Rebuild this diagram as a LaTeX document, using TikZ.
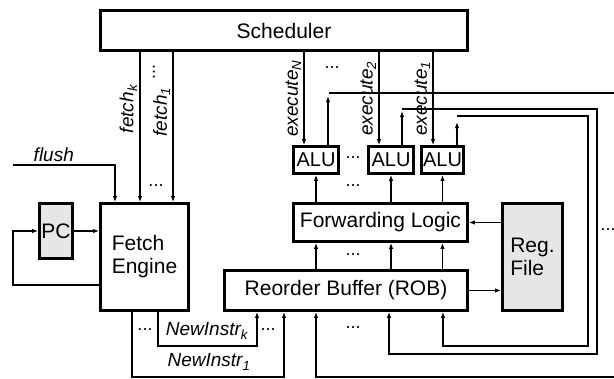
\documentclass[tikz,border=0pt]{standalone}
\usepackage{fontspec}
\setmainfont{Liberation Sans}
\usetikzlibrary{arrows.meta,positioning}
\definecolor{boxgray}{RGB}{230,230,230}

\begin{document}
\begin{tikzpicture}[x=1pt,y=-1pt,
     >={Latex[length=6pt,width=4.5pt]},
     blk/.style={draw,line width=2.8pt,inner sep=0pt,font=\fontsize{21}{23}\selectfont},
     shaded/.style={blk,fill=boxgray},
     sig/.style={line width=1.9pt,->},
     wire/.style={line width=1.9pt},
     lbl/.style={font=\fontsize{19}{21}\selectfont\itshape,inner sep=2pt},
     dotz/.style={font=\fontsize{18}{20}\selectfont,inner sep=0pt}]
    \useasboundingbox (0,0) rectangle (614,379);
    % boxes
    \node[blk,minimum width=367pt,minimum height=40pt] (sched) at (284,30.5) {Scheduler};
    \node[blk,minimum width=88pt,minimum height=107pt,align=left] (fetch) at (144.5,257) {Fetch\\Engine};
    \node[shaded,minimum width=33pt,minimum height=55pt] (pc) at (56,231) {PC};
    \node[blk,minimum width=243pt,minimum height=40pt] (rob) at (346,290.5) {Reorder Buffer (ROB)};
    \node[blk,minimum width=174pt,minimum height=38pt] (fwd) at (380.5,222.5) {Forwarding Logic};
    \node[shaded,minimum width=60pt,minimum height=107pt,align=left] (reg) at (532.5,257) {Reg.\\File};
    \node[blk,minimum width=45pt,minimum height=27pt,font=\fontsize{20}{22}\selectfont] (alu1) at (316,160) {ALU};
    \node[blk,minimum width=45pt,minimum height=27pt,font=\fontsize{20}{22}\selectfont] (alu2) at (391,160) {ALU};
    \node[blk,minimum width=42pt,minimum height=27pt,font=\fontsize{20}{22}\selectfont] (alu3) at (442.5,160) {ALU};
    \coordinate (flushin) at (13,165);
    \coordinate (flushdn) at ([xshift=-29.5pt]fetch.north);
    \coordinate (outN) at (614,93);
    \coordinate (inN) at (614,377);

    % fetch side
    \draw[sig] ([xshift=-4.5pt]fetch.north |- sched.south) -- node[lbl,pos=0.38,rotate=90,anchor=south]{fetch\textsubscript{k}} ([xshift=-4.5pt]fetch.north);
    \draw[sig] ([xshift=28.5pt]fetch.north |- sched.south) -- node[lbl,pos=0.4,rotate=90,anchor=south]{fetch\textsubscript{1}} ([xshift=28.5pt]fetch.north);
    \draw[sig] (flushin) -- node[lbl,above,pos=0.4]{flush} (flushin -| flushdn) -- (flushdn);
    \draw[sig] (pc.east) -- (pc.east -| fetch.west);
    \draw[sig] ([yshift=-28pt]fetch.west) -- ++(-86,0) |- (pc.west);
    \draw[sig] ([xshift=-12.5pt]fetch.south) -- ++(0,65) -| ([xshift=-62pt]rob.south);
    \draw[sig] ([xshift=13.5pt]fetch.south) -- ++(0,34) -| ([xshift=-89pt]rob.south);
    \node[lbl] (nik) at (207,331) {NewInstr\textsubscript{k}};
    \node[lbl] (nio) at (209,362) {NewInstr\textsubscript{1}};

    % scheduler to ALUs
    \draw[sig] ([xshift=-12pt]alu1.north |- sched.south) -- node[lbl,rotate=90,anchor=south]{execute\textsubscript{N}} ([xshift=-12pt]alu1.north);
    \draw[sig] ([xshift=-12pt]alu2.north |- sched.south) -- node[lbl,rotate=90,anchor=south]{execute\textsubscript{2}} ([xshift=-12pt]alu2.north);
    \draw[sig] ([xshift=-9.5pt]alu3.north |- sched.south) -- node[lbl,rotate=90,anchor=south]{execute\textsubscript{1}} ([xshift=-9.5pt]alu3.north);

    % ROB -> forwarding -> ALUs
    \draw[sig] (alu1.south |- rob.north) -- (alu1.south |- fwd.south);
    \draw[sig] (alu2.south |- rob.north) -- (alu2.south |- fwd.south);
    \draw[sig] (alu3.south |- rob.north) -- (alu3.south |- fwd.south);
    \draw[sig] (alu1.south |- fwd.north) -- (alu1.south);
    \draw[sig] (alu2.south |- fwd.north) -- (alu2.south);
    \draw[sig] (alu3.south |- fwd.north) -- (alu3.south);
    \draw[sig] (reg.west |- fwd.east) -- (fwd.east);
    \draw[sig] (rob.east) -- (rob.east -| reg.west);

    % result buses back to ROB
    \draw[sig] ([xshift=12pt]alu1.north) -- ++(0,-49);
    \draw[wire] ([xshift=13pt]alu1.north |- outN) -- (outN);
    \draw[sig] (inN) -| ([xshift=-30pt]rob.south);
    \draw[sig] ([xshift=11pt]alu2.north) -- ++(0,-34);
    \draw[sig] ([xshift=11pt]alu2.north) ++(0,-36) -- ++(195,0) -- ++(0,245) -| ([xshift=43pt]rob.south);
    \draw[sig] ([xshift=14.5pt]alu3.north) -- ++(0,-23);
    \draw[sig] ([xshift=14.5pt]alu3.north) ++(0,-29.5) -- ++(131,0) -- ++(0,230) -| ([xshift=97pt]rob.south);

    % dots
    \node[dotz,rotate=90] (dfa) at (154,72) {...};
    \node[dotz] (dfb) at (156,186) {...};
    \node[dotz] (dex) at (332,68) {...};
    \node[dotz] (dal) at (353,158) {...};
    \node[dotz] (dfw) at (353,186) {...};
    \node[dotz] (drb) at (353,255) {...};
    \node[dotz] (dbt) at (353,328) {...};
    \node[dotz] (dni) at (145,330) {...};
    \node[dotz] (dnk) at (268,330) {...};
    \node[dotz] (drt) at (608,230) {...};
  \end{tikzpicture}
\end{document}
